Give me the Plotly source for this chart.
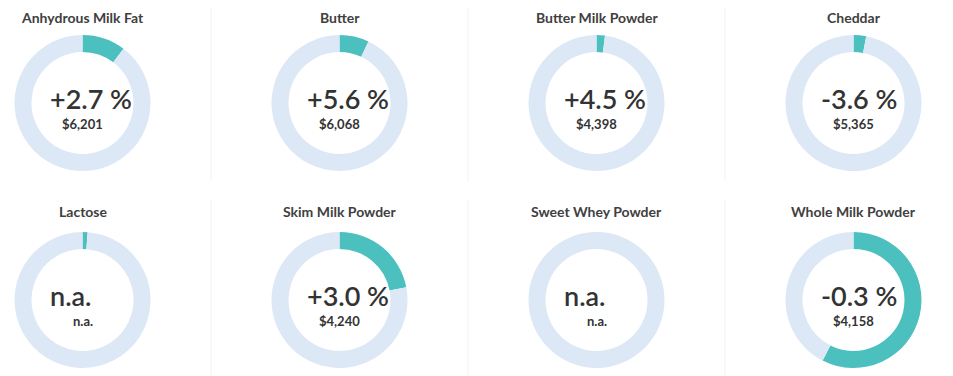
import plotly.graph_objects as go

products = ["Anhydrous Milk Fat", "Butter", "Butter Milk Powder", "Cheddar",
            "Lactose", "Skim Milk Powder", "Sweet Whey Powder", "Whole Milk Powder"]
changes = ["+2.7 %", "+5.6 %", "+4.5 %", "-3.6 %", "n.a.", "+3.0 %", "n.a.", "-0.3 %"]
prices = ["$6,201", "$6,068", "$4,398", "$5,365", "n.a.", "$4,240", "n.a.", "$4,158"]
shares = [0.103, 0.07, 0.02, 0.03, 0.012, 0.22, 0.0, 0.575]

W, H = 953, 376
OFF = 8  # page body margin
col_cx = [82.5 - OFF, 339.5 - OFF, 596.5 - OFF, 853.5 - OFF]
row_cy = [103 - OFF, 300 - OFF]
row_title_top = [0, 194]
R = 68
TEAL = "#4cbfbf"
LIGHT = "#dde8f6"
TXT = "#333333"

fig = go.Figure()
ann = []
shapes = []
for i, name in enumerate(products):
    r, c = divmod(i, 4)
    cx, cy = col_cx[c], row_cy[r]
    x0, x1 = (cx - R) / W, (cx + R) / W
    y0, y1 = (H - cy - R) / H, (H - cy + R) / H
    fig.add_trace(go.Pie(
        values=[shares[i], 1 - shares[i]],
        labels=["share", "rest"],
        hole=0.75, sort=False, direction="clockwise", rotation=0,
        marker=dict(colors=[TEAL, LIGHT], line=dict(width=0)),
        textinfo="none", hoverinfo="skip", showlegend=False,
        domain=dict(x=[x0, x1], y=[y0, y1]),
    ))
    ann.append(dict(text=f"<b>{name}</b>", x=cx / W, y=1 - row_title_top[r] / H,
                    xref="paper", yref="paper", showarrow=False, borderpad=0,
                    font=dict(family="Lato", size=14, color="#404040"),
                    xanchor="center", yanchor="top"))
    ann.append(dict(text=changes[i], x=(cx - 35) / W, y=1 - (cy - 5) / H,
                    xref="paper", yref="paper", showarrow=False,
                    font=dict(family="Lato", size=27, color=TXT, weight=600),
                    xanchor="left", yanchor="middle"))
    ann.append(dict(text=f"<b>{prices[i]}</b>", x=cx / W, y=1 - (cy + 21) / H,
                    xref="paper", yref="paper", showarrow=False,
                    font=dict(family="Lato", size=13, color=TXT),
                    xanchor="center", yanchor="middle"))

for sx in [211 - OFF, 468 - OFF, 725 - OFF]:
    for (ya, yb) in [(0, 182 - OFF), (200 - OFF, 376)]:
        shapes.append(dict(type="line", xref="paper", yref="paper",
                           x0=sx / W, x1=sx / W, y0=1 - ya / H, y1=1 - yb / H,
                           line=dict(color="#f3f3f3", width=1)))

fig.update_layout(width=W, height=H, margin=dict(l=0, r=0, t=0, b=0),
                  paper_bgcolor="white", plot_bgcolor="white",
                  annotations=ann, shapes=shapes)
fig.write_html("out.html")
